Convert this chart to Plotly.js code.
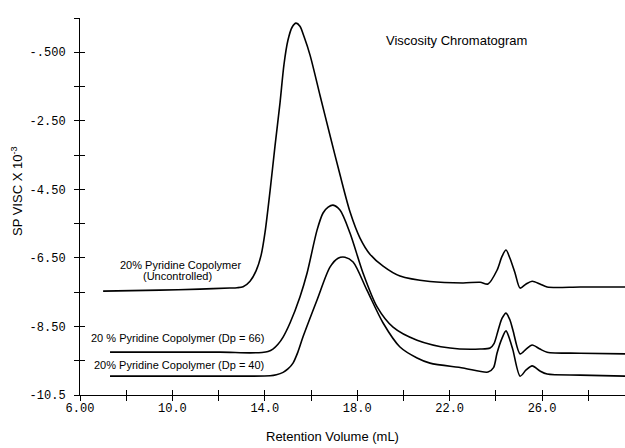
<!DOCTYPE html>
<html>
<head>
<meta charset="utf-8">
<script src="https://cdn.plot.ly/plotly-3.0.1.min.js"></script>
<style>html,body{margin:0;padding:0;background:#fff;}#chart{width:625px;height:448px;}</style>
</head>
<body>
<div id="chart"></div>
<script>
// Retention volume (mL) and SP VISC x 10^-3 values
const uncX = [7.00, 9.46, 11.19, 12.49, 12.80, 13.06, 13.36, 13.62, 13.84, 14.01, 14.23, 14.44, 14.66, 14.83, 15.00, 15.18, 15.35, 15.52, 15.70, 15.96, 16.39, 16.82, 17.26, 17.69, 18.12, 18.55, 19.12, 19.85, 21.15, 22.58, 23.32, 23.66, 24.05, 24.27, 24.44, 24.61, 24.83, 25.05, 25.31, 25.57, 25.91, 26.22, 27.65, 29.59];
const uncY = [-7.47, -7.44, -7.41, -7.38, -7.37, -7.34, -7.18, -6.88, -6.42, -5.75, -4.52, -3.24, -1.96, -0.85, -0.15, 0.23, 0.35, 0.26, -0.05, -0.59, -1.76, -2.92, -4.09, -5.16, -5.92, -6.39, -6.74, -7.03, -7.19, -7.23, -7.21, -7.26, -6.86, -6.45, -6.27, -6.51, -6.94, -7.38, -7.26, -7.18, -7.26, -7.35, -7.35, -7.35];

const dp66X = [7.30, 9.46, 12.06, 13.36, 13.88, 14.14, 14.35, 14.57, 14.79, 15.09, 15.52, 15.83, 16.26, 16.52, 16.74, 16.95, 17.26, 17.69, 18.25, 18.86, 19.55, 20.59, 22.02, 23.32, 23.75, 23.92, 24.10, 24.27, 24.44, 24.61, 24.74, 25.05, 25.31, 25.57, 25.91, 26.22, 27.65, 29.59];
const dp66Y = [-9.25, -9.25, -9.25, -9.27, -9.26, -9.23, -9.16, -9.02, -8.81, -8.40, -7.64, -6.94, -5.69, -5.19, -5.02, -4.96, -5.11, -5.78, -6.94, -7.93, -8.52, -8.90, -9.13, -9.16, -9.13, -9.00, -8.61, -8.26, -8.11, -8.31, -8.61, -9.30, -9.16, -9.04, -9.16, -9.25, -9.28, -9.30];

const dp40X = [7.30, 9.46, 12.06, 14.23, 14.50, 14.79, 15.00, 15.22, 15.43, 15.65, 16.26, 16.82, 17.17, 17.47, 17.82, 18.42, 19.12, 19.85, 20.59, 21.15, 22.58, 23.66, 23.90, 24.05, 24.27, 24.44, 24.61, 24.74, 25.05, 25.31, 25.57, 25.91, 26.22, 27.65, 29.59];
const dp40Y = [-9.95, -9.95, -9.95, -9.94, -9.91, -9.84, -9.74, -9.57, -9.25, -8.81, -7.73, -6.77, -6.51, -6.48, -6.62, -7.44, -8.40, -9.10, -9.42, -9.57, -9.71, -9.83, -9.70, -9.28, -8.84, -8.63, -8.90, -9.19, -9.95, -9.77, -9.65, -9.80, -9.89, -9.92, -9.95];

const yTickVals = [-10.5, -9.5, -8.5, -7.5, -6.5, -5.5, -4.5, -3.5, -2.5, -1.5, -0.5, 0.5];
const yTickText = ["-10.5", " ", "-8.50", " ", "-6.50", " ", "-4.50", " ", "-2.50", " ", "-.500", " "];
const xTickVals = [6, 8, 10, 12, 14, 16, 18, 20, 22, 24, 26, 28];
const xTickText = ["6.00", " ", "10.0", " ", "14.0", " ", "18.0", " ", "22.0", " ", "26.0", " "];

const labelText = ["20% Pyridine Copolymer", "(Uncontrolled)", "20 % Pyridine Copolymer (Dp = 66)", "20% Pyridine Copolymer (Dp = 40)"];
const labelX = [10.33, 10.24, 10.22, 10.30];
const labelY = [-6.71, -7.03, -8.84, -9.63];

const lineStyle = {color: '#000', width: 1.6, shape: 'spline', smoothing: 0.8};
const traces = [
  {x: uncX, y: uncY, mode: 'lines', line: lineStyle, hoverinfo: 'skip', showlegend: false},
  {x: dp66X, y: dp66Y, mode: 'lines', line: lineStyle, hoverinfo: 'skip', showlegend: false},
  {x: dp40X, y: dp40Y, mode: 'lines', line: lineStyle, hoverinfo: 'skip', showlegend: false},
  {x: [null], y: [null], xaxis: 'x2', yaxis: 'y2', mode: 'lines', hoverinfo: 'skip', showlegend: false}
];

const tickFont = {family: 'Liberation Mono, DejaVu Sans Mono, monospace', size: 12, color: '#000'};
const xRange = [6, 29.59];
const yRange = [-10.5, 0.5];

const annotations = labelText.map((t, i) => ({
  text: t, x: labelX[i], y: labelY[i], xref: 'x', yref: 'y',
  showarrow: false, xanchor: 'center', yanchor: 'middle',
  font: {family: 'Liberation Sans, Arial, sans-serif', size: 11, color: '#000'}
}));
annotations.push({
  text: 'Viscosity Chromatogram', xref: 'paper', yref: 'paper', x: 0.69, y: 0.939,
  showarrow: false, xanchor: 'center', yanchor: 'middle',
  font: {family: 'Liberation Sans, Arial, sans-serif', size: 13, color: '#000'}
});
annotations.push({
  text: 'Retention Volume (mL)', xref: 'paper', yref: 'paper', x: 0.464, y: -0.111,
  showarrow: false, xanchor: 'center', yanchor: 'middle',
  font: {family: 'Liberation Sans, Arial, sans-serif', size: 13, color: '#000'}
});
annotations.push({
  text: 'SP VISC X 10<sup>-3</sup>', xref: 'paper', yref: 'paper', x: -0.1156, y: 0.541,
  showarrow: false, xanchor: 'center', yanchor: 'middle', textangle: -90,
  font: {family: 'Liberation Sans, Arial, sans-serif', size: 13, color: '#000'}
});

const layout = {
  width: 625, height: 448,
  margin: {l: 80, r: 0, t: 18, b: 53},
  paper_bgcolor: '#fff', plot_bgcolor: '#fff',
  showlegend: false,
  xaxis: {
    range: xRange, showgrid: false, zeroline: false,
    showline: true, linecolor: '#000', linewidth: 1,
    ticks: 'outside', ticklen: 5, tickcolor: '#000', tickwidth: 1,
    tickmode: 'array', tickvals: xTickVals, ticktext: xTickText,
    tickfont: tickFont, ticklabelstandoff: -3
  },
  yaxis: {
    range: yRange, showgrid: false, zeroline: false,
    showline: true, linecolor: '#000', linewidth: 1,
    ticks: 'outside', ticklen: 5, tickcolor: '#000', tickwidth: 1,
    tickmode: 'array', tickvals: yTickVals, ticktext: yTickText,
    tickfont: tickFont, ticklabelstandoff: 6
  },
  xaxis2: {
    range: xRange, overlaying: 'x', anchor: 'y2', side: 'bottom',
    showgrid: false, zeroline: false, showline: false,
    ticks: 'inside', ticklen: 5, tickcolor: '#000', tickwidth: 1,
    tickmode: 'array', tickvals: xTickVals, showticklabels: false
  },
  yaxis2: {
    range: yRange, overlaying: 'y', anchor: 'x2', side: 'left',
    showgrid: false, zeroline: false, showline: false,
    ticks: 'inside', ticklen: 5, tickcolor: '#000', tickwidth: 1,
    tickmode: 'array', tickvals: yTickVals, showticklabels: false
  },
  annotations: annotations
};

Plotly.newPlot('chart', traces, layout, {staticPlot: true, displayModeBar: false});
</script>
</body>
</html>
